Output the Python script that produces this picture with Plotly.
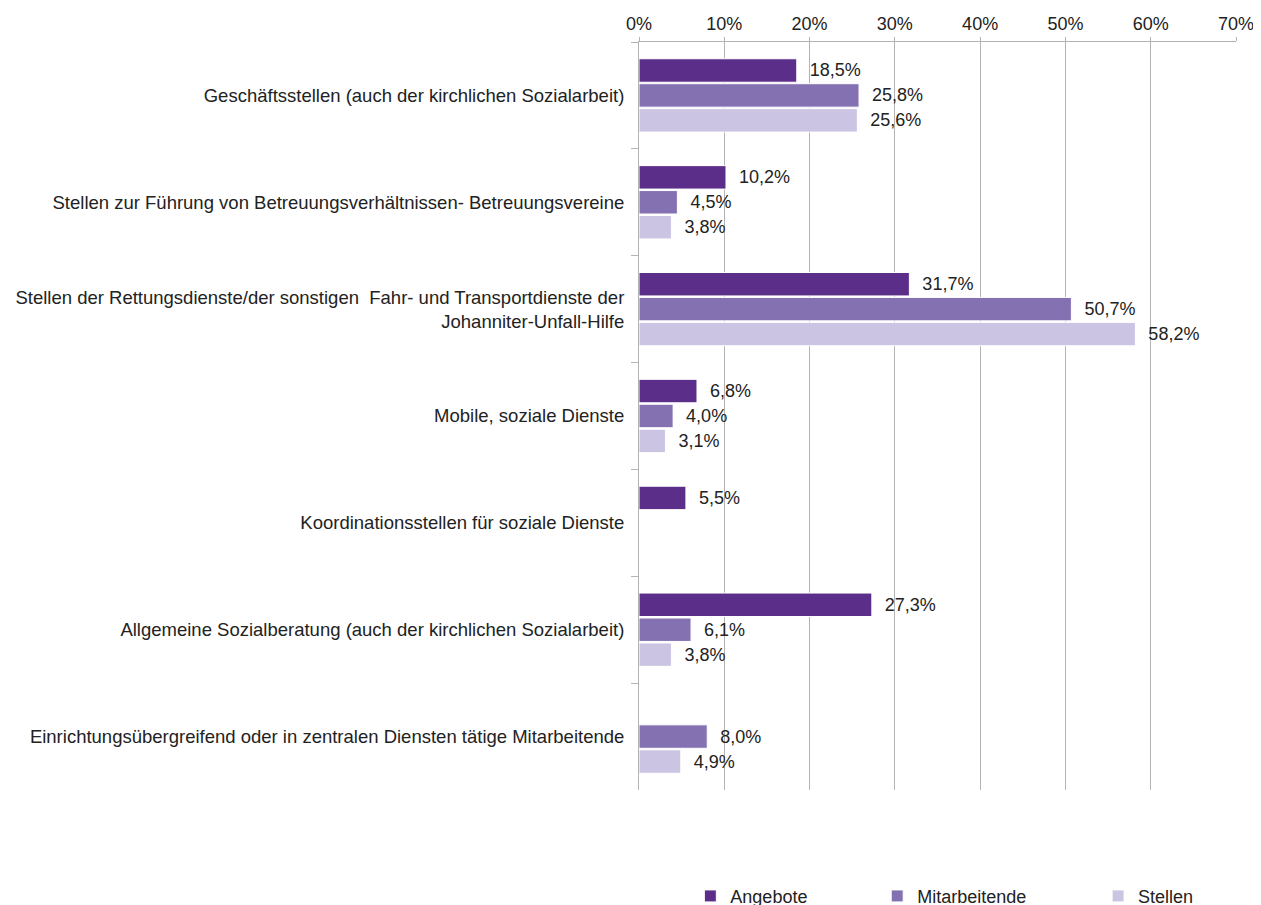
import plotly.graph_objects as go

categories = [
    "Geschäftsstellen (auch der kirchlichen Sozialarbeit)",
    "Stellen zur Führung von Betreuungsverhältnissen- Betreuungsvereine",
    "Stellen der Rettungsdienste/der sonstigen  Fahr- und Transportdienste der<br>Johanniter-Unfall-Hilfe",
    "Mobile, soziale Dienste",
    "Koordinationsstellen für soziale Dienste",
    "Allgemeine Sozialberatung (auch der kirchlichen Sozialarbeit)",
    "Einrichtungsübergreifend oder in zentralen Diensten tätige Mitarbeitende",
]
angebote = [18.5, 10.2, 31.7, 6.8, 5.5, 27.3, None]
mitarbeitende = [25.8, 4.5, 50.7, 4.0, None, 6.1, 8.0]
stellen = [25.6, 3.8, 58.2, 3.1, None, 3.8, 4.9]
x_ticks = [0, 10, 20, 30, 40, 50, 60, 70]

series = [
    ("Angebote", angebote, "#5b2e8a", "legend"),
    ("Mitarbeitende", mitarbeitende, "#8471b1", "legend2"),
    ("Stellen", stellen, "#cbc4e3", "legend3"),
]

font_family = "Liberation Sans, Arial, sans-serif"
fig = go.Figure()
for name, vals, color, leg in series:
    fig.add_trace(go.Bar(
        name=name, y=categories, x=vals, orientation="h",
        marker=dict(color=color, line=dict(color="white", width=1)),
        texttemplate="\u00a0\u00a0%{x:.1f}%", textposition="outside",
        textfont=dict(size=18, color="#222222", family=font_family),
        cliponaxis=False, legend=leg, showlegend=True,
    ))

legend_common = dict(orientation="h", yanchor="middle", y=-0.142, xanchor="left",
                     font=dict(size=18, color="#222222", family=font_family),
                     itemwidth=30, bgcolor="rgba(0,0,0,0)")
fig.update_layout(
    width=1261, height=940,
    showlegend=True,
    margin=dict(l=631, r=33, t=34, b=158),
    paper_bgcolor="white", plot_bgcolor="white",
    separators=",.",
    barmode="group", bargap=0.3, bargroupgap=0.06,
    font=dict(family=font_family, size=18, color="#222222"),
    legend=dict(x=0.086, **legend_common),
    legend2=dict(x=0.399, **legend_common),
    legend3=dict(x=0.769, **legend_common),
    xaxis=dict(
        side="top", range=[0, 70], tickvals=x_ticks,
        ticktext=[f"{v}%" for v in x_ticks],
        showgrid=True, gridcolor="#b3b3b3", gridwidth=1,
        showline=True, linecolor="#b3b3b3", linewidth=1,
        ticks="outside", ticklen=4, tickcolor="#b3b3b3",
        tickfont=dict(size=18, color="#222222"), zeroline=False,
        automargin=False,
    ),
    yaxis=dict(
        autorange="reversed", showline=True, linecolor="#b3b3b3", linewidth=1,
        ticks="outside", tickson="boundaries", ticklen=7, tickcolor="#b3b3b3",
        tickfont=dict(size=18.5, color="#222222"), showgrid=False,
        ticklabelstandoff=10, automargin=False,
    ),
)
fig.write_html("out.html")
